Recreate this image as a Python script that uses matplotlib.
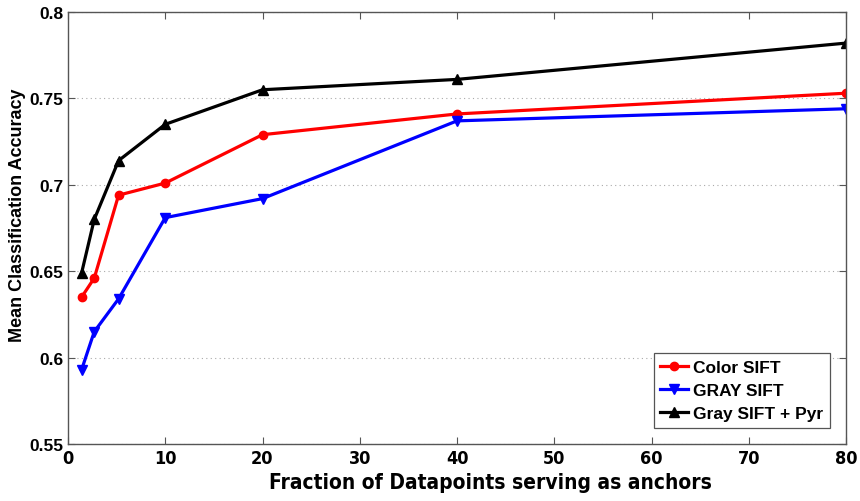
import matplotlib
matplotlib.use('Agg')
import matplotlib.pyplot as plt

# anchor fraction (%) vs. mean accuracy for the three descriptors
fractions = [1.4, 2.7, 5.2, 10, 20, 40, 80]
color_sift = [0.635, 0.646, 0.694, 0.701, 0.729, 0.741, 0.753]
gray_sift = [0.593, 0.615, 0.634, 0.681, 0.692, 0.737, 0.744]
gray_sift_pyr = [0.649, 0.680, 0.714, 0.735, 0.755, 0.761, 0.782]

series_labels = ['Color SIFT', 'GRAY SIFT', 'Gray SIFT + Pyr']
x_ticks = [0, 10, 20, 30, 40, 50, 60, 70, 80]
y_ticks = [0.55, 0.6, 0.65, 0.7, 0.75, 0.8]
y_tick_labels = ['0.55', '0.6', '0.65', '0.7', '0.75', '0.8']

plt.rcParams['font.family'] = ['Liberation Sans', 'DejaVu Sans']

fig = plt.figure(figsize=(8.6, 5.02), dpi=100)
ax = fig.add_axes([68 / 860, 57 / 502, 778 / 860, 432 / 502])

ax.plot(fractions, color_sift, color='red', marker='o', lw=2.3, ms=6,
        label=series_labels[0])
ax.plot(fractions, gray_sift, color='blue', marker='v', lw=2.3, ms=7,
        label=series_labels[1])
ax.plot(fractions, gray_sift_pyr, color='black', marker='^', lw=2.3, ms=7,
        label=series_labels[2])

ax.set_xlim(0, 80)
ax.set_ylim(0.55, 0.8)
ax.set_xticks(x_ticks)
ax.set_yticks(y_ticks)
ax.set_yticklabels(y_tick_labels)
ax.yaxis.grid(True, linestyle=(0, (1, 3)), color='#aaaaaa', lw=0.8)
ax.tick_params(direction='in', top=True, right=True, length=5,
               color='#555555', labelsize=12.5)
for lbl in ax.get_yticklabels():
    lbl.set_fontweight('bold')
for lbl in ax.get_xticklabels():
    lbl.set_fontweight('bold')
    lbl.set_family('DejaVu Sans')
    lbl.set_stretch('condensed')
    lbl.set_fontsize(13)
for sp in ax.spines.values():
    sp.set_color('#555555')
    sp.set_linewidth(1.0)

fig.text(490 / 860, 1 - 483 / 502, 'Fraction of Datapoints serving as anchors',
         ha='center', va='center', fontsize=15, fontweight='bold',
         family='DejaVu Sans', stretch='condensed')
fig.text(18 / 860, 1 - 215 / 502, 'Mean Classification Accuracy',
         ha='center', va='center', rotation=90, fontsize=13,
         fontweight='bold')

leg = ax.legend(loc='lower right', bbox_to_anchor=(0.979, 0.037),
                borderaxespad=0,
                prop={'weight': 'bold', 'size': 12.5}, fancybox=False,
                edgecolor='#555555', framealpha=1, handlelength=1.6,
                handletextpad=0.25, borderpad=0.4, labelspacing=0.45)
leg.get_frame().set_linewidth(0.9)

fig.savefig('out.png', dpi=100)
